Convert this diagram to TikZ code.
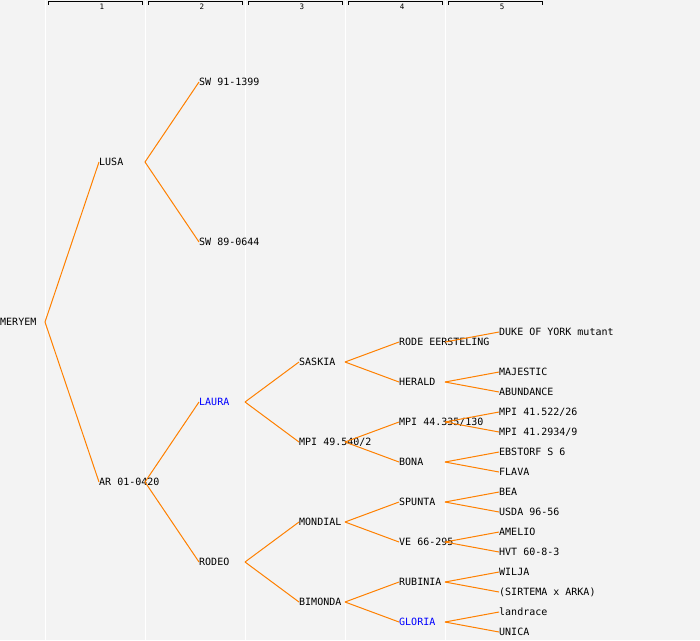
\documentclass[tikz,border=0pt]{standalone}
\usepackage{fontspec}
\newfontfamily\pedfont{DejaVu Sans Mono}
\definecolor{pedbg}{HTML}{F3F3F3}
\definecolor{pedline}{HTML}{FF8000}
\definecolor{pedblue}{HTML}{0000FF}
\begin{document}
\begin{tikzpicture}[x=1pt, y=-1pt,
					plant/.style = {anchor=west, inner sep=0pt, text height=7.3pt, text depth=0pt,
						font=\pedfont\fontsize{10}{10}\selectfont},
					cross/.style = {draw=pedline, line width=1pt},
					colhead/.style = {inner sep=0pt, font=\pedfont\fontsize{7.5}{7.5}\selectfont}
				]
				\fill[pedbg] (0,0) rectangle (700,640);
				\useasboundingbox (0,0) rectangle (700,640);
				% generation columns
				\foreach \c [evaluate=\c as \xl using 100*(\c-1)] in {1,...,5} {
					\draw[white, line width=1pt] (45+\xl,0) coordinate (rule\c) -- (45+\xl,640);
					\draw[black, line width=0.9pt] (48.5+\xl,4.5) |- (142.5+\xl,1.5) -- (142.5+\xl,4.5);
					\node[colhead] (head\c) at (102+\xl,6.8) {\c};
				}
				\node[plant] (meryem) at (0,322) {MERYEM};
				\node[plant] (lusa) at (99,162) {LUSA};
				\node[plant] (ar) at (99,482) {AR 01-0420};
				\node[plant] (sw91) at (199,82) {SW 91-1399};
				\node[plant] (sw89) at (199,242) {SW 89-0644};
				\node[plant, text=pedblue] (laura) at (199,402) {LAURA};
				\node[plant] (rodeo) at (199,562) {RODEO};
				\node[plant] (saskia) at (299,362) {SASKIA};
				\node[plant] (mpi49) at (299,442) {MPI 49.540/2};
				\node[plant] (mondial) at (299,522) {MONDIAL};
				\node[plant] (bimonda) at (299,602) {BIMONDA};
				\node[plant] (rode) at (399,342) {RODE EERSTELING};
				\node[plant] (herald) at (399,382) {HERALD};
				\node[plant] (mpi44) at (399,422) {MPI 44.335/130};
				\node[plant] (bona) at (399,462) {BONA};
				\node[plant] (spunta) at (399,502) {SPUNTA};
				\node[plant] (ve66) at (399,542) {VE 66-295};
				\node[plant] (rubinia) at (399,582) {RUBINIA};
				\node[plant, text=pedblue] (gloria) at (399,622) {GLORIA};
				\node[plant] (duke) at (499,332) {DUKE OF YORK mutant};
				\node[plant] (majestic) at (499,372) {MAJESTIC};
				\node[plant] (abundance) at (499,392) {ABUNDANCE};
				\node[plant] (mpi41a) at (499,412) {MPI 41.522/26};
				\node[plant] (mpi41b) at (499,432) {MPI 41.2934/9};
				\node[plant] (ebstorf) at (499,452) {EBSTORF S 6};
				\node[plant] (flava) at (499,472) {FLAVA};
				\node[plant] (bea) at (499,492) {BEA};
				\node[plant] (usda) at (499,512) {USDA 96-56};
				\node[plant] (amelio) at (499,532) {AMELIO};
				\node[plant] (hvt) at (499,552) {HVT 60-8-3};
				\node[plant] (wilja) at (499,572) {WILJA};
				\node[plant] (sirtema) at (499,592) {(SIRTEMA x ARKA)};
				\node[plant] (landrace) at (499,612) {landrace};
				\node[plant] (unica) at (499,632) {UNICA};
				% parent lines
				\foreach \r/\p/\k in {1/meryem/lusa, 1/meryem/ar,
						2/lusa/sw91, 2/lusa/sw89, 2/ar/laura, 2/ar/rodeo,
						3/laura/saskia, 3/laura/mpi49, 3/rodeo/mondial, 3/rodeo/bimonda,
						4/saskia/rode, 4/saskia/herald, 4/mpi49/mpi44, 4/mpi49/bona,
						4/mondial/spunta, 4/mondial/ve66, 4/bimonda/rubinia, 4/bimonda/gloria,
						5/rode/duke, 5/herald/majestic, 5/herald/abundance,
						5/mpi44/mpi41a, 5/mpi44/mpi41b, 5/bona/ebstorf, 5/bona/flava,
						5/spunta/bea, 5/spunta/usda, 5/ve66/amelio, 5/ve66/hvt,
						5/rubinia/wilja, 5/rubinia/sirtema, 5/gloria/landrace, 5/gloria/unica}
					\draw[cross] (rule\r |- \p.west) -- (\k.west);
			\end{tikzpicture}
\end{document}
